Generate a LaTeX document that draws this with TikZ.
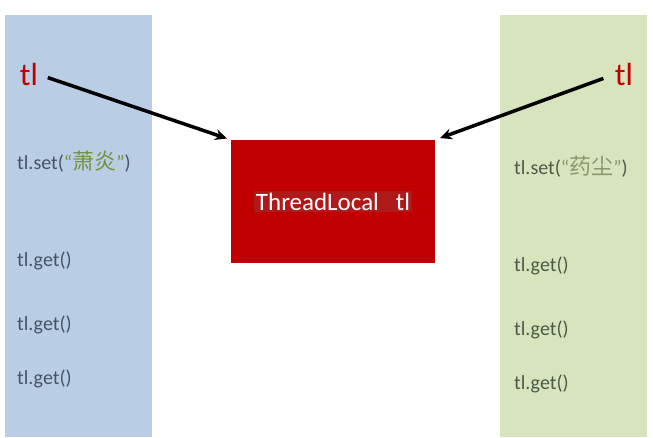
\documentclass[tikz,border=0pt]{standalone}
\usepackage{fontspec}
\setmainfont{Carlito}
\newfontfamily\cjk{Noto Sans CJK SC}
\usetikzlibrary{arrows.meta}
\definecolor{colblue}{HTML}{B9CDE5}
\definecolor{colgreen}{HTML}{D7E4BD}
\definecolor{tlred}{HTML}{C00000}
\definecolor{markred}{HTML}{AE1A1A}
\definecolor{codeblue}{HTML}{465468}
\definecolor{codegreen}{HTML}{4E5A46}
\definecolor{namegreen}{HTML}{76923C}
\definecolor{namegray}{HTML}{8A9870}
\begin{document}
\begin{tikzpicture}[x=1pt, y=-1pt,
    tlname/.style={text=tlred, font=\fontsize{32}{32}\selectfont, inner sep=2pt},
    code/.style={anchor=west, inner sep=0pt, font=\fontsize{20}{22}\selectfont},
    hit/.style={line width=3.5pt, -{Stealth[length=12pt,width=11pt]}}]
  \useasboundingbox (0,0) rectangle (653,437);
  % the two threads
  \fill[colblue] (5,15) rectangle (152,437);
  \fill[colgreen] (500,15) rectangle (647,437);
  % shared object
  \node[fill=tlred, minimum width=204pt, minimum height=123pt, inner sep=0pt]
    (local) at (333,201.5) {};
  \node[fill=markred, text=white, inner sep=1.5pt,
    font=\fontsize{25}{27}\selectfont] (label) at (local) {ThreadLocal\ \ \ tl};
  \node[tlname] (tlL) at (29,75) {tl};
  \node[tlname] (tlR) at (624,75) {tl};
  \draw[hit, shorten <=8pt, shorten >=4pt] (tlL.east) -- (local.north west);
  \draw[hit, shorten <=10pt, shorten >=5pt] (tlR.west) -- (local.north east);
  % thread calls
  \node[code, text=codeblue] (setL) at (17,162)
    {tl.set(\textcolor{namegreen}{“{\cjk\fontsize{22}{22}\selectfont 萧炎}”})};
  \node[code, text=codegreen] (setR) at (514,167)
    {tl.set(\textcolor{namegray}{“{\cjk\fontsize{22}{22}\selectfont 药尘}”})};
  \foreach[count=\i] \y in {261,325,379}{
    \node[code, text=codeblue] (getL\i) at (17,\y) {tl.get()};
    \node[code, text=codegreen] (getR\i) at (514,\y+5) {tl.get()};
  }
\end{tikzpicture}
\end{document}
